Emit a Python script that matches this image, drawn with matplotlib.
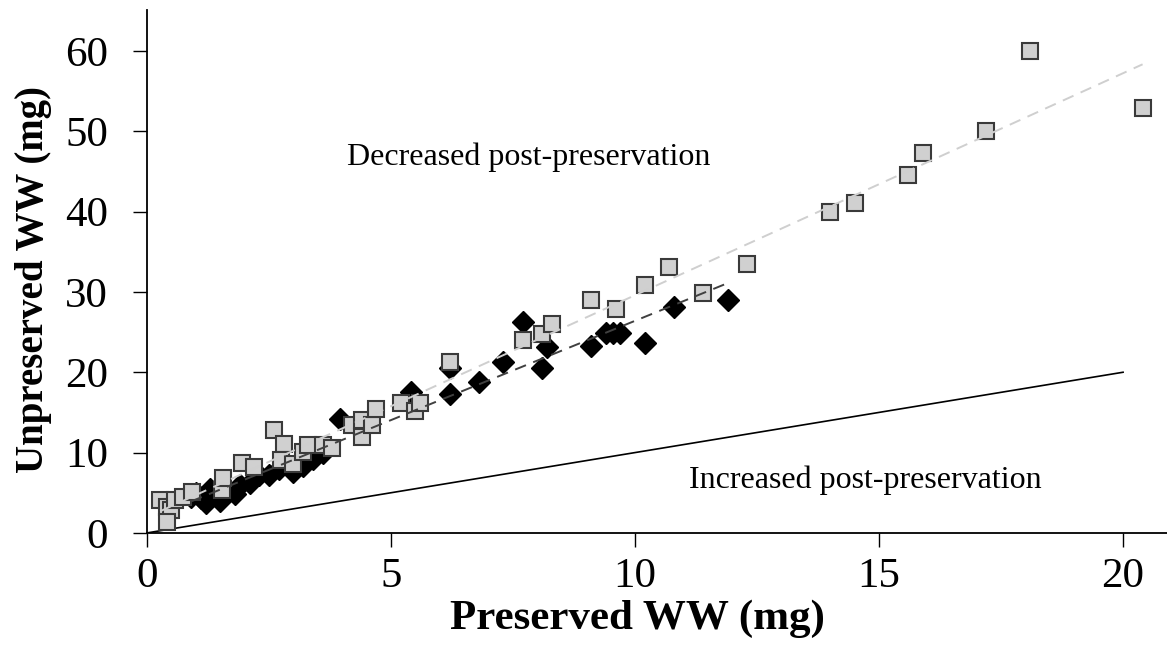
import numpy as np
import matplotlib
matplotlib.use('Agg')
import matplotlib.pyplot as plt

plt.rcParams['font.family'] = ['Liberation Serif', 'DejaVu Serif']

# 方形 (灰色) 样本: 保存后湿重 vs 未保存湿重
sq_x = [0.27, 0.4, 0.5, 0.4, 0.57, 0.74, 0.92, 1.54, 1.56, 1.95, 2.2, 2.6, 2.8, 2.75,
        3.0, 3.2, 3.3, 3.6, 3.8, 4.2, 4.4, 4.4, 4.6, 4.7, 5.2, 5.5, 5.6, 6.2, 7.7,
        8.1, 8.3, 9.1, 9.6, 10.2, 10.7, 11.4, 12.3, 14.0, 14.5, 15.6, 15.9, 17.2,
        18.1, 20.4]
sq_y = [4.1, 3.2, 2.8, 1.4, 4.1, 4.5, 5.1, 5.4, 6.8, 8.7, 8.2, 12.8, 11.1, 9.1,
        8.6, 10.1, 11.0, 11.0, 10.6, 13.4, 14.1, 12.0, 13.4, 15.4, 16.2, 15.2, 16.2,
        21.3, 24.0, 24.8, 26.0, 29.0, 27.9, 30.9, 33.1, 29.9, 33.5, 40.0, 41.1,
        44.6, 47.3, 50.0, 60.0, 52.9]

# 菱形 (黑色) 样本
dm_x = [0.9, 1.0, 1.1, 1.2, 1.3, 1.5, 1.6, 1.8, 1.9, 2.1, 2.3, 2.5, 2.7, 3.0,
        3.2, 3.4, 3.6, 3.95, 5.4, 6.2, 6.2, 6.8, 7.3, 7.7, 8.1, 8.2, 9.1, 9.4,
        9.55, 9.7, 10.2, 10.8, 11.9]
dm_y = [4.5, 5.0, 4.3, 3.7, 5.5, 4.0, 5.2, 4.8, 6.0, 6.2, 7.2, 7.2, 8.0, 7.6,
        8.3, 9.2, 10.0, 14.2, 17.6, 17.3, 20.5, 18.8, 21.3, 26.3, 20.5, 23.1,
        23.3, 24.9, 24.9, 24.9, 23.6, 28.1, 29.0]

one_to_one = [0, 20]

fig = plt.figure(figsize=(11.67, 6.62), dpi=100)
ax = fig.add_axes([0.126, 0.195, 0.874, 0.79])

ax.plot(dm_x, dm_y, 'D', ms=11, color='black', mec='black', zorder=3)
ax.plot(sq_x, sq_y, 's', ms=12, color='#d0d0d0', mec='#3a3a3a', mew=1.5, zorder=4)

# 线性拟合
k1, b1 = np.polyfit(sq_x, sq_y, 1)
xs1 = np.array([min(sq_x), max(sq_x)])
ax.plot(xs1, k1 * xs1 + b1, '--', color='#cfcfcf', lw=1.4, dashes=(6, 4), zorder=5)
k2, b2 = np.polyfit(dm_x, dm_y, 1)
xs2 = np.array([min(dm_x), max(dm_x)])
ax.plot(xs2, k2 * xs2 + b2, '--', color='#404040', lw=1.4, dashes=(6, 4), zorder=5)

ax.plot(one_to_one, one_to_one, '-', color='black', lw=1.2, zorder=2)

ax.text(4.1, 46.7, 'Decreased post-preservation', fontsize=23, va='center')
ax.text(11.1, 6.6, 'Increased post-preservation', fontsize=23, va='center')

ax.set_xlim(0, 20.9)
ax.set_ylim(0, 65.1)
ax.set_xticks([0, 5, 10, 15, 20])
ax.set_yticks([0, 10, 20, 30, 40, 50, 60])
ax.tick_params(direction='out', length=10, width=1, labelsize=31)
ax.tick_params(axis='x', pad=8)
ax.tick_params(axis='y', pad=18)
for s in ['top', 'right']:
    ax.spines[s].set_visible(False)
for s in ['left', 'bottom']:
    ax.spines[s].set_linewidth(1.3)

ax.set_xlabel('Preserved WW (mg)', fontsize=31, fontweight='bold')
ax.set_ylabel('Unpreserved WW (mg)', fontsize=28, fontweight='bold')
ax.xaxis.set_label_coords(0.481, -0.127)
ax.yaxis.set_label_coords(-0.093, 0.484)

plt.savefig('out.png', dpi=100)
plt.close()
